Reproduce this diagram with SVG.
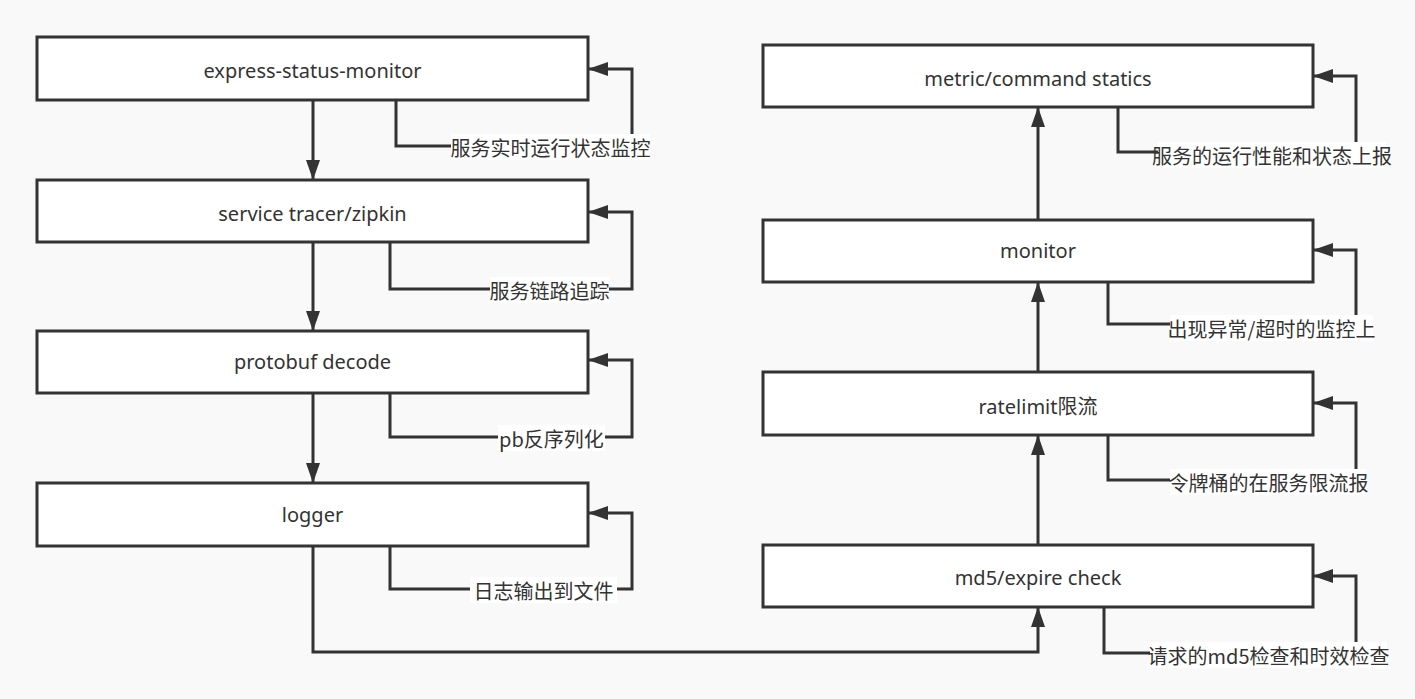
<svg xmlns="http://www.w3.org/2000/svg" width="1415" height="699" viewBox="0 0 1415 699">
<defs>
<marker id="ah" viewBox="0 0 20 14" refX="20" refY="7" markerWidth="20" markerHeight="14" markerUnits="userSpaceOnUse" orient="auto">
<path d="M0,0 L20,7 L0,14 Z" fill="#333"/>
</marker>
<style>
.box{fill:#fff;stroke:#333;stroke-width:3}
.t{font-family:"Noto Sans","Noto Sans CJK SC",sans-serif;font-size:20px;fill:#333;text-anchor:middle;dominant-baseline:central}
.lbl{font-family:"Noto Sans CJK SC","Noto Sans",sans-serif;font-size:20px;fill:#333;text-anchor:middle;dominant-baseline:central}
.lb{fill:#fff}
.c{fill:none;stroke:#333;stroke-width:3}
</style>
</defs>
<rect x="0" y="0" width="1415" height="699" fill="#f9f9f9"/>
<g id="connectors">
<path class="c" d="M313,100 V180" marker-end="url(#ah)"/>
<path class="c" d="M313,242 V331" marker-end="url(#ah)"/>
<path class="c" d="M313,393 V483" marker-end="url(#ah)"/>
<path class="c" d="M313,546 V652 H1038 V607" marker-end="url(#ah)"/>
<path class="c" d="M1038,545 V435" marker-end="url(#ah)"/>
<path class="c" d="M1038,372 V282" marker-end="url(#ah)"/>
<path class="c" d="M1038,220 V107" marker-end="url(#ah)"/>
<path class="c" d="M396,100 V146 H632 V69 H588" marker-end="url(#ah)"/>
<path class="c" d="M390,242 V289 H632 V212 H588" marker-end="url(#ah)"/>
<path class="c" d="M390,393 V437 H632 V360 H588" marker-end="url(#ah)"/>
<path class="c" d="M390,546 V589 H632 V513 H588" marker-end="url(#ah)"/>
<path class="c" d="M1118,107 V152 H1356 V76 H1313" marker-end="url(#ah)"/>
<path class="c" d="M1108,282 V324 H1356 V250 H1313" marker-end="url(#ah)"/>
<path class="c" d="M1108,435 V480 H1356 V403 H1313" marker-end="url(#ah)"/>
<path class="c" d="M1104,607 V653 H1356 V576 H1313" marker-end="url(#ah)"/>
</g>
<g id="labels">
<rect class="lb" x="451" y="134" width="199" height="26"/><text class="lbl" x="550.5" y="147">服务实时运行状态监控</text>
<rect class="lb" x="490" y="277" width="119" height="26"/><text class="lbl" x="549.5" y="290">服务链路追踪</text>
<rect class="lb" x="498" y="425" width="107" height="26"/><text class="lbl" x="551.5" y="438">pb反序列化</text>
<rect class="lb" x="470" y="577" width="147" height="26"/><text class="lbl" x="543.5" y="590">日志输出到文件</text>
<rect class="lb" x="1158" y="142" width="228" height="26"/><text class="lbl" x="1272" y="155">服务的运行性能和状态上报</text>
<rect class="lb" x="1170" y="315" width="203" height="26"/><text class="lbl" x="1271.5" y="328">出现异常/超时的监控上</text>
<rect class="lb" x="1170" y="469" width="197" height="26"/><text class="lbl" x="1268.5" y="482">令牌桶的在服务限流报</text>
<rect class="lb" x="1150" y="642" width="237" height="26"/><text class="lbl" x="1268.5" y="655">请求的md5检查和时效检查</text>
</g>
<g id="n1"><rect class="box" x="37" y="37" width="551" height="63"/><text class="t" x="312.5" y="70">express-status-monitor</text></g>
<g id="n2"><rect class="box" x="37" y="180" width="551" height="62"/><text class="t" x="312.5" y="213">service tracer/zipkin</text></g>
<g id="n3"><rect class="box" x="37" y="331" width="551" height="62"/><text class="t" x="312.5" y="361">protobuf decode</text></g>
<g id="n4"><rect class="box" x="37" y="483" width="551" height="63"/><text class="t" x="312.5" y="514">logger</text></g>
<g id="r1"><rect class="box" x="763" y="45" width="550" height="62"/><text class="t" x="1038" y="78">metric/command statics</text></g>
<g id="r2"><rect class="box" x="763" y="220" width="550" height="62"/><text class="t" x="1038" y="250">monitor</text></g>
<g id="r3"><rect class="box" x="763" y="372" width="550" height="63"/><text class="t" x="1038" y="406">ratelimit限流</text></g>
<g id="r4"><rect class="box" x="763" y="545" width="550" height="62"/><text class="t" x="1038" y="577">md5/expire check</text></g>
</svg>
